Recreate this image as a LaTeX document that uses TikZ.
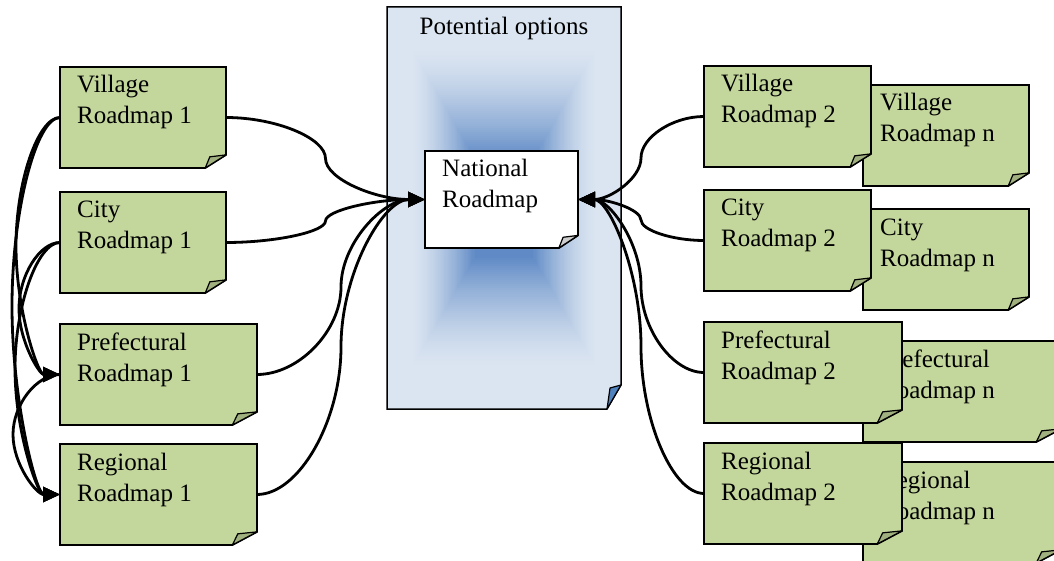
\documentclass[tikz,border=0pt]{standalone}
\usepackage{fontspec}
\setmainfont{Liberation Serif}
\usetikzlibrary{arrows.meta,calc}
\definecolor{notegreen}{RGB}{195,214,155}
\definecolor{foldgreen}{RGB}{160,176,126}
\definecolor{foldgray}{RGB}{205,205,205}
\definecolor{plight}{RGB}{219,229,241}
\definecolor{pdark}{RGB}{95,138,198}
\definecolor{foldblue}{RGB}{79,129,189}
\tikzset{
 noteline/.style={draw=black, line width=1.8pt, line join=miter},
 foldline/.style={draw=black, line width=1.2pt, line join=round},
 boxnode/.style={rectangle, draw=none, inner sep=0pt, outer sep=0pt},
 notetext/.style={anchor=base west, align=left, inner sep=0pt, font=\fontsize{25}{31}\selectfont},
 arr/.style={line width=2.8pt, line join=round, -{Triangle[length=17pt,width=15pt]}},
 wc/.style={to path={let \p1=(\tikztostart), \p2=(\tikztotarget), \p3=({(\x1+\x2)/2},{(\y1+\y2)/2}) in .. controls ({(\x1+\x3)/2},\y1) and (\x3,{(3*\y1+\y2)/4}) .. (\p3) .. controls (\x3,{(\y1+3*\y2)/4}) and ({(\x3+\x2)/2},\y2) .. (\p2)}},
 wcx/.style={to path={let \p1=(\tikztostart), \p2=(\tikztotarget), \p3=(#1pt,{(\y1+\y2)/2}) in .. controls ({(\x1+\x3)/2},\y1) and (\x3,{(3*\y1+\y2)/4}) .. (\p3) .. controls (\x3,{(\y1+3*\y2)/4}) and ({(\x3+\x2)/2},\y2) .. (\p2)}},
}
\newcommand{\mknote}[8]{%
  \pgfmathsetmacro\fdx{0.125*#4}%
  \pgfmathsetmacro\fdy{0.13*#5}%
  \path[noteline, fill=#6] (#2,#3) -- ++(#4,0) -- ++(0,{#5-\fdy}) -- ++({-\fdx},\fdy) -- ({#2},{#3+#5}) -- cycle;
  \path[foldline, fill=#7] ({#2+#4},{#3+#5-\fdy}) -- ({#2+#4-\fdx},{#3+#5}) -- ({#2+#4-0.78*\fdx},{#3+#5-0.85*\fdy}) -- cycle;
  \node[boxnode, minimum width=#4pt, minimum height=#5pt] (#1) at ({#2+#4/2},{#3+#5/2}) {};
  \node[notetext] (#1-t) at ({#2+17},{#3+57}) {#8};
}
\begin{document}
\begin{tikzpicture}[x=1pt,y=-1pt]
\useasboundingbox (0,0) rectangle (1054,561);
\clip (0,0) rectangle (1054,561);
% central box with rectangular gradient
\begin{scope}
 \clip (387,7) -- (621,7) -- (621,385) -- (607,409) -- (387,409) -- cycle;
 \foreach \i in {0,...,75}{
  \pgfmathsetmacro\grt{1-\i*0.01}
  \pgfmathsetmacro\grq{max(0,min(1,(0.8-\grt)/0.55))}
  \pgfmathsetmacro\grp{100*\grq^1.5}
  \fill[pdark!\grp!plight] ({504-\grt*117},{208-\grt*201}) rectangle ({504+\grt*117},{208+\grt*201});
 }
\end{scope}
\path[draw=black, line width=1.5pt] (387,7) -- (621,7) -- (621,385) -- (607,409) -- (387,409) -- cycle;
\path[foldline, fill=foldblue] (621,385) -- (607,409) -- (610,388) -- cycle;
\node[boxnode, minimum width=234pt, minimum height=402pt] (opt) at (504,208) {};
\node[anchor=base, inner sep=0pt, font=\fontsize{25}{31}\selectfont] (opt-t) at (504,35) {Potential options};
% national
\mknote{nat}{425}{151}{153}{97}{white}{foldgray}{National\\Roadmap}
% left column
\mknote{v1}{60}{67}{166}{101}{notegreen}{foldgreen}{Village\\Roadmap 1}
\mknote{c1}{60}{192}{166}{101}{notegreen}{foldgreen}{City\\Roadmap 1}
\mknote{p1}{60}{324}{197}{101}{notegreen}{foldgreen}{Prefectural\\Roadmap 1}
\mknote{r1}{60}{444}{197}{101}{notegreen}{foldgreen}{Regional\\Roadmap 1}
% right back column
\mknote{vn}{863}{85}{166}{101}{notegreen}{foldgreen}{Village\\Roadmap n}
\mknote{cn}{863}{209}{166}{101}{notegreen}{foldgreen}{City\\Roadmap n}
\mknote{pn}{863}{341}{198}{101}{notegreen}{foldgreen}{Prefectural\\Roadmap n}
\mknote{rn}{863}{462}{198}{101}{notegreen}{foldgreen}{Regional\\Roadmap n}
% right front column
\mknote{v2}{704}{66}{167}{101}{notegreen}{foldgreen}{Village\\Roadmap 2}
\mknote{c2}{704}{190}{167}{101}{notegreen}{foldgreen}{City\\Roadmap 2}
\mknote{p2}{704}{322}{198}{101}{notegreen}{foldgreen}{Prefectural\\Roadmap 2}
\mknote{r2}{704}{443}{198}{101}{notegreen}{foldgreen}{Regional\\Roadmap 2}
% connectors to national
\draw[arr] (v1.east) to[wc] (nat.west);
\draw[arr] (c1.east) to[wc] (nat.west);
\draw[arr] (p1.east) to[wc] (nat.west);
\draw[arr] (r1.east) to[wc] (nat.west);
\draw[arr] (v2.west) to[wc] (nat.east);
\draw[arr] (c2.west) to[wc] (nat.east);
\draw[arr] (p2.west) to[wc] (nat.east);
\draw[arr] (r2.west) to[wc] (nat.east);
% left bundle
\draw[arr] (v1.west) to[wcx=16] (p1.west);
\draw[arr] (v1.west) to[wcx=12] (r1.west);
\draw[arr] (c1.west) to[wcx=19] (p1.west);
\draw[arr] (c1.west) to[wcx=15] (r1.west);
\draw[arr] (p1.west) to[wcx=13] (r1.west);
\end{tikzpicture}
\end{document}
